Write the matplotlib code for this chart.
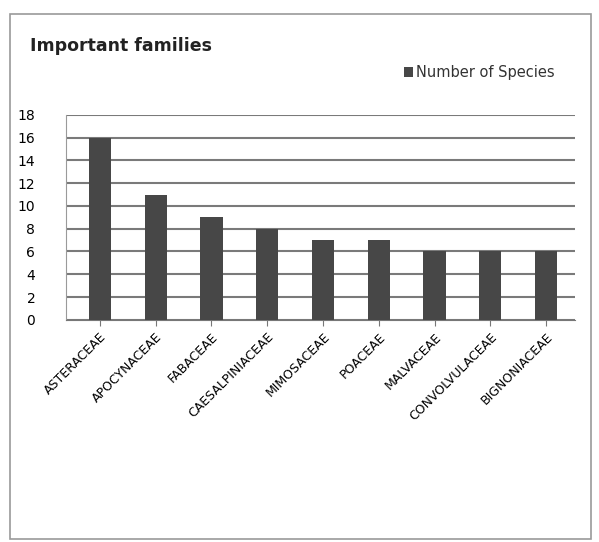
import matplotlib
matplotlib.use("Agg")
import matplotlib.pyplot as plt
from matplotlib.patches import Rectangle

# data
families = ["ASTERACEAE", "APOCYNACEAE", "FABACEAE", "CAESALPINIACEAE", "MIMOSACEAE",
            "POACEAE", "MALVACEAE", "CONVOLVULACEAE", "BIGNONIACEAE"]
species = [16, 11, 9, 8, 7, 7, 6, 6, 6]
yticks = [0, 2, 4, 6, 8, 10, 12, 14, 16, 18]

fig = plt.figure(figsize=(5.99, 5.42), dpi=100)

# outer chart frame
fig.patches.append(Rectangle((0.017, 0.006), 0.97, 0.969, transform=fig.transFigure,
                             fill=False, edgecolor="#9a9a9a", linewidth=1.2))

ax = fig.add_axes([0.11, 0.41, 0.85, 0.378])
x = range(len(families))
ax.bar(x, species, width=0.4, color="#474747", label="Number of Species", zorder=3)

ax.set_ylim(0, 18)
ax.set_xlim(-0.61, 8.52)
ax.set_yticks(yticks)
ax.tick_params(axis="y", length=0, labelsize=10, pad=22)
ax.set_xticks(list(x))
ax.set_xticklabels(families, rotation=45, ha="right", rotation_mode="anchor", fontsize=9)
ax.tick_params(axis="x", length=4, color="#777777")
ax.grid(axis="y", color="#7a7a7a", linewidth=1.5, zorder=0)
for s in ["top", "right"]:
    ax.spines[s].set_visible(False)
ax.spines["left"].set_color("#9a9a9a")
ax.spines["bottom"].set_color("#777777")

fig.text(0.05, 0.905, "Important families", fontsize=12.5, fontweight="bold", color="#222222")
ax.legend(loc="lower right", bbox_to_anchor=(0.985, 1.105), frameon=False, fontsize=10.5,
          handlelength=0.6, handleheight=0.6, handletextpad=0.2, labelcolor="#333333")

fig.savefig("out.png", dpi=100, facecolor="white")
